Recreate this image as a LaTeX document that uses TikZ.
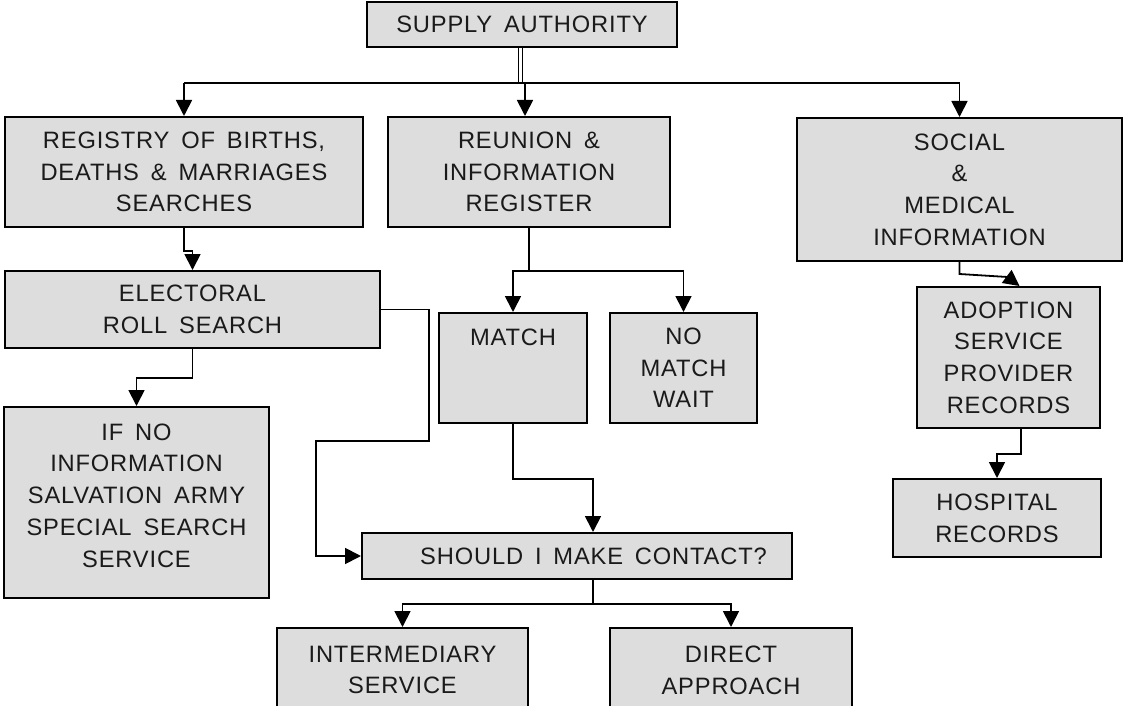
\documentclass[tikz,border=0pt]{standalone}
\usepackage{fontspec}
\setmainfont{Liberation Sans}[LetterSpace=3.5,WordSpace=1.6]
\usetikzlibrary{arrows.meta,calc}
\definecolor{boxgray}{HTML}{DDDDDD}
\definecolor{txtc}{HTML}{1A1A1A}
\newcommand\lblfont{\fontsize{23.7}{31.7}\selectfont}
\tikzset{
  box/.style={draw=black, line width=2pt, fill=boxgray, inner sep=2pt, align=center, text=txtc, font=\lblfont},
  lbl/.style={align=center, text=txtc, font=\lblfont, inner sep=0pt},
  conn/.style={line width=1.8pt},
  arr/.style={conn, -{Triangle[length=16pt,width=16pt]}},
}
\begin{document}
\begin{tikzpicture}[x=1pt,y=-1pt]
\useasboundingbox (0,0) rectangle (1125,706);
\clip (0,0) rectangle (1125,706);
\fill[white] (0,0) rectangle (1125,706);

% boxes
\node[box, minimum width=310, minimum height=45] (sa) at (522,24.5) {SUPPLY AUTHORITY};
\node[box, minimum width=358, minimum height=110] (reg) at (184,172) {REGISTRY OF BIRTHS,\\DEATHS \& MARRIAGES\\SEARCHES};
\node[box, minimum width=282, minimum height=110] (reu) at (529,172) {REUNION \&\\INFORMATION\\REGISTER};
\node[box, minimum width=325, minimum height=143] (soc) at (959.5,189.5) {SOCIAL\\\&\\MEDICAL\\INFORMATION};
\node[box, minimum width=375, minimum height=77] (ele) at (192.5,309.5) {ELECTORAL\\ROLL SEARCH};
\node[box, minimum width=265, minimum height=191] (ifno) at (136.5,502.5) {};
\node[lbl] (ifnot) at (136.5,495.5) {IF NO\\INFORMATION\\SALVATION ARMY\\SPECIAL SEARCH\\SERVICE};
\node[box, minimum width=148, minimum height=110] (match) at (513,368) {};
\node[lbl] (matcht) at (513,337) {MATCH};
\node[box, minimum width=147, minimum height=110] (nomatch) at (683.5,368) {NO\\MATCH\\WAIT};
\node[box, minimum width=183, minimum height=141] (adopt) at (1008.5,357.5) {ADOPTION\\SERVICE\\PROVIDER\\RECORDS};
\node[box, minimum width=208, minimum height=78] (hosp) at (997,518) {HOSPITAL\\RECORDS};
\node[box, minimum width=430, minimum height=46] (should) at (577,556) {};
\node[lbl] (shouldt) at (593.5,556) {SHOULD I MAKE CONTACT?};
\node[box, minimum width=251, minimum height=84] (inter) at (402.5,670) {INTERMEDIARY\\SERVICE};
\node[box, minimum width=242, minimum height=84] (direct) at (731,670) {DIRECT\\APPROACH};

% top distribution
\coordinate (bus) at ($(sa.south)+(0,35)$);
\draw[line width=1.3pt, double distance=2.2pt] ($(sa.south)+(-1.5,0)$) -- ($(bus)+(-1.5,0)$);
\draw[conn] (bus -| reg.north) -- (bus -| soc.north);
\draw[arr] (bus -| reg.north) -- (reg.north);
\draw[arr] ($(bus -| reu.north)+(-4,0)$) -- ($(reu.north)+(-4,0)$);
\draw[arr] (bus -| soc.north) -- (soc.north);

% left column
\draw[arr] (reg.south) -- ++(0,23) -| (ele.north);
\draw[arr] (ele.south) -- ++(0,29) -| (ifno.north);
\draw[arr] (ele.east) -- ++(48,0) -- ++(0,131.5) -- ++(-113,0) |- (should.west);

% middle column
\draw[conn] (reu.south) -- ++(0,43) coordinate (rj);
\draw[arr] (rj) -| (match.north);
\draw[arr] (rj) -| (nomatch.north);
\draw[arr] (match.south) -- ++(0,55) -| ($(should.north)+(16,0)$);
\draw[conn] ($(should.south)+(16,0)$) -- ++(0,24) coordinate (sj);
\draw[arr] (sj) -| (inter.north);
\draw[arr] (sj) -| (direct.north);

% right column
\draw[arr] (soc.south) -- ++(0,12) -- ++(48,3) -- ($(adopt.north)+(11,0)$);
\draw[arr] ($(adopt.south)+(12.5,0)$) -- ++(0,25) -| (hosp.north);
\end{tikzpicture}
\end{document}
